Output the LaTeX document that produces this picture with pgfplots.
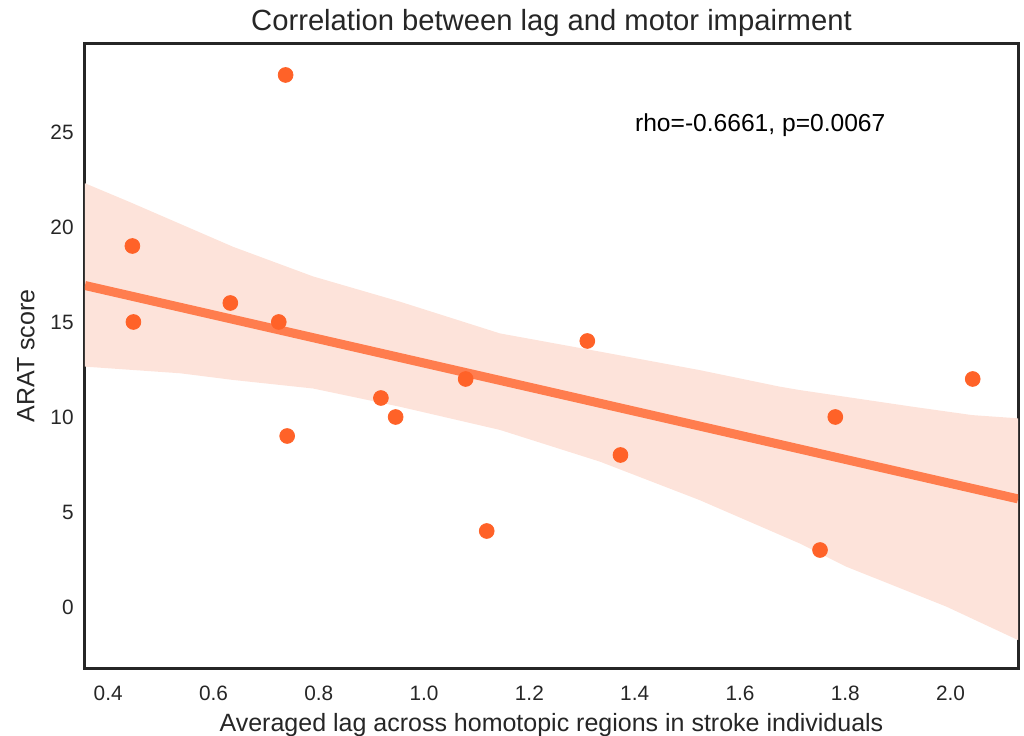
\documentclass[border=0pt]{standalone}
\usepackage{pgfplots}
\pgfplotsset{compat=1.18}
\usepgfplotslibrary{fillbetween}
\usepackage{fontspec}
\setmainfont{Liberation Sans}

\definecolor{dotc}{RGB}{255,98,40}
\definecolor{linec}{RGB}{255,125,78}
\definecolor{bandc}{RGB}{253,227,218}
\definecolor{txt}{RGB}{38,38,38}

\begin{document}
\begin{tikzpicture}
\begin{axis}[
  name=ax,
  scale only axis,
  width=466.5pt, height=312pt,
  xmin=0.356, xmax=2.128,
  ymin=-3.21, ymax=29.63,
  xtick={0.4,0.6,0.8,1.0,1.2,1.4,1.6,1.8,2.0},
  ytick={0,5,10,15,20,25},
  major tick length=0pt,
  axis line style={txt, line width=1.5pt},
  /pgf/number format/assume math mode=true,
  xticklabel style={font=\fontsize{10.4}{12}\selectfont, text=txt, inner sep=0pt, anchor=north, yshift=-9pt,
    /pgf/number format/.cd, fixed, fixed zerofill, precision=1},
  yticklabel style={font=\fontsize{10.4}{12}\selectfont, text=txt, inner sep=0pt, anchor=east, xshift=-5.5pt},
  xlabel={Averaged lag across homotopic regions in stroke individuals},
  ylabel={ARAT score},
  xlabel style={font=\fontsize{12.5}{14}\selectfont, text=txt, inner sep=0pt,
    at={(axis description cs:0.5,0)}, anchor=base, yshift=-31.5pt},
  ylabel style={font=\fontsize{12.5}{14}\selectfont, text=txt, inner sep=0pt,
    at={(axis description cs:0,0.5)}, anchor=center, yshift=29.5pt},
  every axis title shift=0pt,
  title={Correlation between lag and motor impairment},
  title style={font=\fontsize{14.6}{16}\selectfont, text=txt, inner sep=0pt,
    at={(axis description cs:0.5,1)}, anchor=base, yshift=6.5pt},
  clip=true,
]
% bootstrap confidence band
\addplot[name path=up, draw=none, forget plot] coordinates {
  (0.356,22.3) (0.442,21.3) (0.637,18.96) (0.789,17.4) (0.954,16.07)
  (1.144,14.4) (1.334,13.44) (1.523,12.47) (1.675,11.6) (1.713,11.42)
  (1.928,10.54) (2.041,10.1) (2.128,9.93)
};
\addplot[name path=lo, draw=none, forget plot] coordinates {
  (0.356,12.65) (0.537,12.3) (0.637,11.95) (0.789,11.5) (0.954,10.54)
  (1.144,9.32) (1.334,7.65) (1.523,5.63) (1.713,3.35) (1.802,2.12)
  (1.992,0.02) (2.128,-1.74)
};
\addplot[fill=bandc, draw=none, forget plot] fill between[of=up and lo];
% regression line
\addplot[linec, line width=4.5pt] coordinates {(0.356,16.92) (2.128,5.69)};
% observations
\addplot[only marks, mark=*, mark size=3.7pt, color=dotc, mark options={draw=none, fill=dotc}] coordinates {
  (0.446,19) (0.448,15) (0.632,16) (0.724,15) (0.737,28) (0.740,9)
  (0.918,11) (0.946,10) (1.079,12) (1.119,4) (1.310,14) (1.373,8)
  (1.752,3) (1.781,10) (2.042,12)
};
\node[anchor=base west, inner sep=0pt, font=\fontsize{12.3}{14}\selectfont] at (axis cs:1.4,25) {rho=-0.6661, p=0.0067};
\end{axis}
\pgfresetboundingbox
\path ([xshift=-42.5pt,yshift=-33.5pt]ax.south west) rectangle ([xshift=3pt,yshift=22pt]ax.north east);
\end{tikzpicture}
\end{document}
